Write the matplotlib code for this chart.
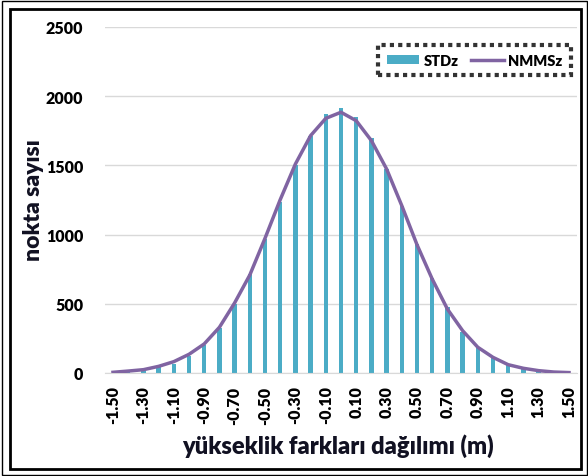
import numpy as np
import matplotlib
matplotlib.use('Agg')
import matplotlib.pyplot as plt
from matplotlib.patches import Rectangle, Patch
from matplotlib.lines import Line2D

plt.rcParams['font.family'] = ['Lato', 'DejaVu Sans']

bins = [-1.5, -1.4, -1.3, -1.2, -1.1, -1.0, -0.9, -0.8, -0.7, -0.6, -0.5,
        -0.4, -0.3, -0.2, -0.1, 0.0, 0.1, 0.2, 0.3, 0.4, 0.5, 0.6, 0.7, 0.8,
        0.9, 1.0, 1.1, 1.2, 1.3, 1.4, 1.5]
std_z = [2, 5, 15, 41, 68, 125, 205, 328, 496, 715, 966, 1238, 1503, 1715, 1871,
         1912, 1852, 1698, 1474, 1207, 932, 684, 475, 299, 178, 106, 60, 29, 12, 3, 1]
nmms_z = [5, 14, 24, 48, 82, 135, 210, 330, 506, 708, 973, 1252, 1510, 1715, 1840,
          1884, 1823, 1679, 1474, 1209, 927, 679, 462, 306, 186, 113, 60, 34, 17, 7, 3]
y_ticks = [0, 500, 1000, 1500, 2000, 2500]

W, H = 588, 477
fig = plt.figure(figsize=(W / 100, H / 100), dpi=100, facecolor='white')
ax = fig.add_axes([105.4 / W, (H - 374) / H, (576.6 - 105.4) / W, (374 - 28) / H])

x = np.arange(len(bins))
ax.bar(x, std_z, width=0.3, color='#4BACC6', zorder=2, label='STDz')
ax.plot(x, nmms_z, color='#8064A2', linewidth=2.5, zorder=3, label='NMMSz')

ax.set_xlim(-0.5, len(bins) - 0.5)
ax.set_ylim(0, 2500)
ax.set_yticks(y_ticks)
ax.set_yticklabels([str(v) for v in y_ticks], fontsize=11.5, fontweight='heavy')
ax.set_xticks(x[::2])
ax.set_xticklabels([f'{b:.2f}' for b in bins[::2]], rotation=90, fontsize=11.5,
                   fontweight='heavy')
ax.tick_params(axis='both', length=0)
ax.tick_params(axis='y', pad=16)
ax.tick_params(axis='x', pad=9)
ax.grid(axis='y', color='#D9D9D9', linewidth=1, zorder=0)
for s in ['top', 'right', 'left']:
    ax.spines[s].set_visible(False)
ax.spines['bottom'].set_color('#D9D9D9')

fig.text(33 / W, 1 - 200 / H, 'nokta sayısı', rotation=90, ha='center', va='center',
         fontsize=16.5, fontweight='heavy', color='#111122')
fig.text(338 / W, 1 - 446 / H, 'yükseklik farkları dağılımı (m)', ha='center',
         va='center', fontsize=17, fontweight='heavy', color='#111122')

handles = [Patch(facecolor='#4BACC6', label='STDz'),
           Line2D([0], [0], color='#8064A2', linewidth=2.5, label='NMMSz')]
leg = ax.legend(handles=handles, loc='upper right', bbox_to_anchor=(0.988, 0.948),
                ncol=2, prop={'weight': 'heavy', 'size': 10.5}, frameon=True,
                fancybox=False, borderpad=0.6, handlelength=2.2, columnspacing=0.9,
                handletextpad=0.3, borderaxespad=0.0, handleheight=0.5)
frame = leg.get_frame()
frame.set_edgecolor('black')
frame.set_linewidth(3)
frame.set_linestyle((0, (1, 1)))

fig.patches.append(Rectangle((2 / W, 1 / H), (W - 3) / W, (H - 3) / H,
                             transform=fig.transFigure, fill=False,
                             edgecolor='black', linewidth=1))
fig.patches.append(Rectangle((9.5 / W, 7 / H), (581 - 9.5) / W, (H - 16.5) / H,
                             transform=fig.transFigure, fill=False,
                             edgecolor='black', linewidth=2))

fig.savefig('out.png', dpi=100, facecolor='white')
